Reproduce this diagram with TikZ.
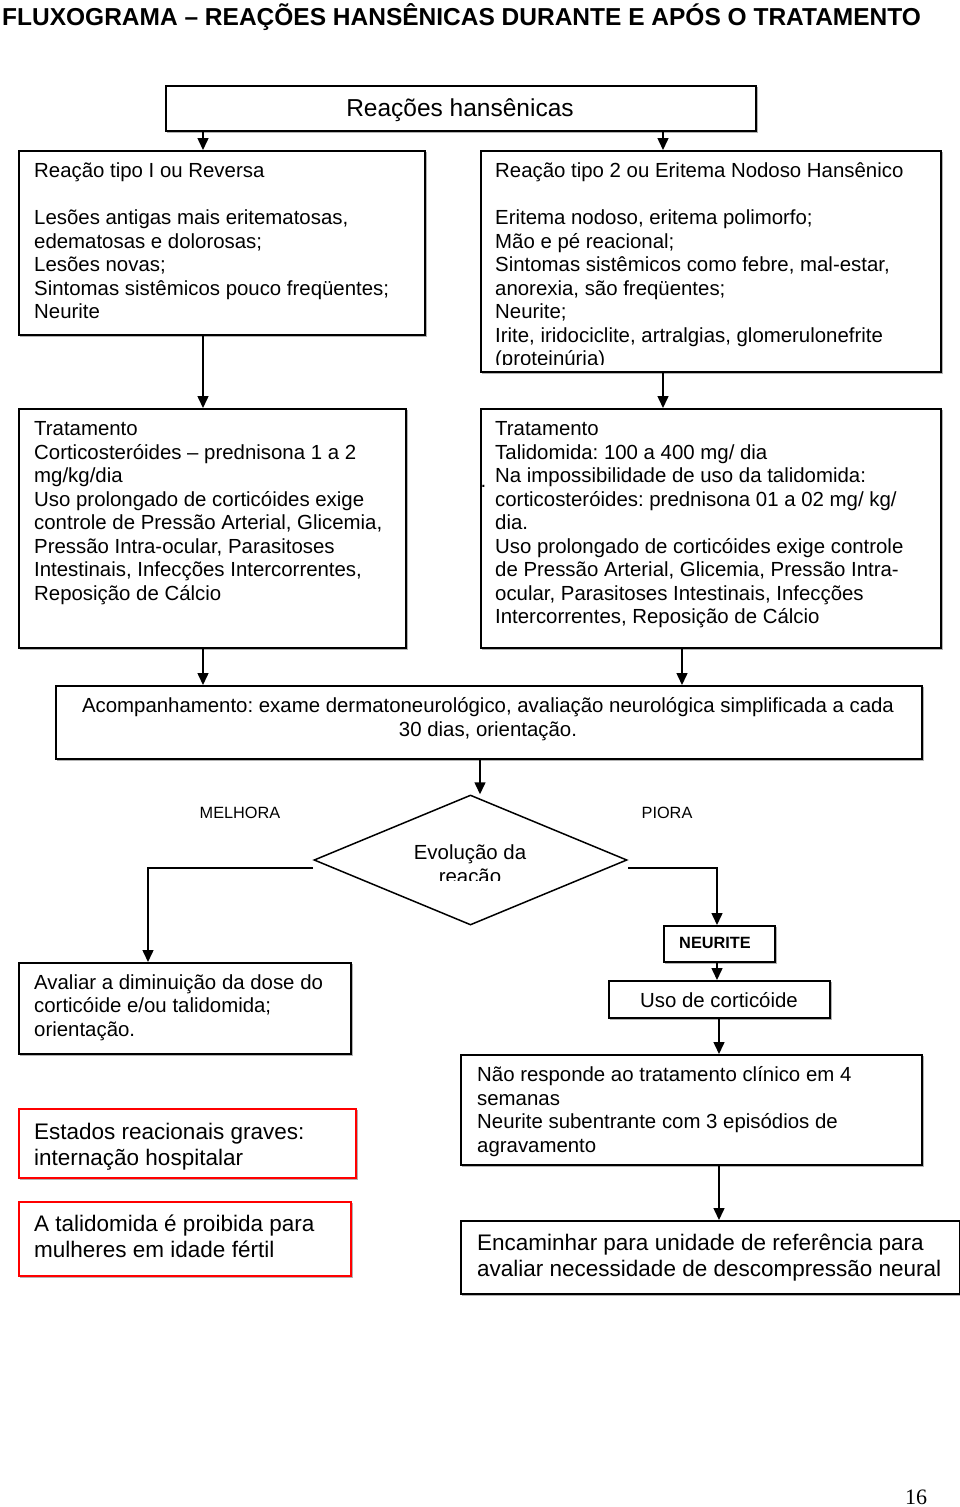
\documentclass[tikz,border=0pt]{standalone}
\usepackage{fontspec}
\setmainfont{Liberation Sans}
\newfontfamily\serifpn{Liberation Serif}
\usetikzlibrary{arrows.meta,shapes.geometric}
\newcommand\firstst{\rule{0pt}{18pt}}
\begin{document}
\frenchspacing
\begin{tikzpicture}[x=1pt,y=-1pt,
  bx/.style={draw, line width=1.5pt, fill=white, inner sep=0pt, anchor=north west,
    preaction={draw=gray!60, line width=1.5pt, transform canvas={xshift=1.5pt,yshift=-1.5pt}}},
  redbx/.style={bx, draw=red},
  tx/.style={anchor=north west, inner sep=0pt, align=left, font=\fontsize{20.4}{23.5}\selectfont},
  txbig/.style={tx, font=\fontsize{22.5}{26}\selectfont},
  one/.style={anchor=base, inner sep=0pt, font=\fontsize{20.4}{23.5}\selectfont},
  small/.style={anchor=base, inner sep=0pt, font=\fontsize{16.3}{19}\selectfont},
  arr/.style={-{Triangle[length=12pt,width=11pt]}, line width=1.5pt}]
\path[use as bounding box] (0,0) rectangle (960,1507);

% title
\node[anchor=base west, inner sep=0pt, font=\fontsize{24.5}{28}\selectfont\bfseries] (title) at (2,25)
  {FLUXOGRAMA – REAÇÕES HANSÊNICAS DURANTE E APÓS O TRATAMENTO};

% x positions of connectors
\coordinate (xa) at (203,0);
\coordinate (xb) at (663,0);
\coordinate (xc) at (682,0);
\coordinate (xd) at (480,0);
\coordinate (xe) at (717,0);
\coordinate (xf) at (719,0);

% top box
\node[bx, minimum width=590pt, minimum height=45pt] (top) at (165,85) {};
\node[anchor=base, inner sep=0pt, font=\fontsize{24.5}{28}\selectfont] (toptx) at (460,116.5) {Reações hansênicas};

% level 1
\node[bx, minimum width=406pt, minimum height=184pt] (l1) at (18,150) {};
\node[tx] (l1tx) at (34,159.7) {\firstst Reação tipo I ou Reversa\\[23.5pt]
Lesões antigas mais eritematosas,\\
edematosas e dolorosas;\\
Lesões novas;\\
Sintomas sistêmicos pouco freqüentes;\\
Neurite};

\node[bx, minimum width=460pt, minimum height=221pt] (r1) at (480,150) {};
\begin{scope}
\clip (482,152) rectangle (938,364);
\node[tx] (r1tx) at (495,159.7) {\firstst Reação tipo 2 ou Eritema Nodoso Hansênico\\[23.5pt]
Eritema nodoso, eritema polimorfo;\\
Mão e pé reacional;\\
Sintomas sistêmicos como febre, mal-estar,\\
anorexia, são freqüentes;\\
Neurite;\\
Irite, iridociclite, artralgias, glomerulonefrite\\
(proteinúria)};
\end{scope}

% level 2
\node[bx, minimum width=387pt, minimum height=239pt] (l2) at (18,408) {};
\node[tx] (l2tx) at (34,417.5) {\firstst Tratamento\\
Corticosteróides – prednisona 1 a 2\\
mg/kg/dia\\
Uso prolongado de corticóides exige\\
controle de Pressão Arterial, Glicemia,\\
Pressão Intra-ocular, Parasitoses\\
Intestinais, Infecções Intercorrentes,\\
Reposição de Cálcio};

\node[bx, minimum width=460pt, minimum height=239pt] (r2) at (480,408) {};
\node[tx] (r2tx) at (495,417.5) {\firstst Tratamento\\
Talidomida: 100 a 400 mg/ dia\\
Na impossibilidade de uso da talidomida:\\
corticosteróides: prednisona 01 a 02 mg/ kg/\\
dia.\\
Uso prolongado de corticóides exige controle\\
de Pressão Arterial, Glicemia, Pressão Intra-\\
ocular, Parasitoses Intestinais, Infecções\\
Intercorrentes, Reposição de Cálcio};
\node[one] (dot) at (483.5,487) {.};

% follow-up
\node[bx, minimum width=866pt, minimum height=73pt] (ac) at (55,685) {};
\node[tx, align=center, anchor=north] (actx) at (488,694.5)
  {\firstst Acompanhamento: exame dermatoneurológico, avaliação neurológica simplificada a cada\\
30 dias, orientação.};

% decision
\node[draw, diamond, line width=1.5pt, minimum width=313pt, minimum height=130pt, inner sep=0pt] (dia) at (470.5,860) {};
\begin{scope}
\clip (320,800) rectangle (620,880);
\node[tx, align=center, anchor=north] (diatx) at (470,841.5) {\firstst Evolução da\\ reação};
\end{scope}
\node[small] (mel) at (240,818) {MELHORA};
\node[small] (pio) at (667,818) {PIORA};

% left branch
\node[bx, minimum width=332pt, minimum height=91pt] (av) at (18,962) {};
\node[tx] (avtx) at (34,971) {\firstst Avaliar a diminuição da dose do\\
corticóide e/ou talidomida;\\
orientação.};

\node[redbx, minimum width=337pt, minimum height=69pt] (est) at (18,1108) {};
\node[txbig] (esttx) at (34,1121) {\firstst Estados reacionais graves:\\ internação hospitalar};

\node[redbx, minimum width=332pt, minimum height=74pt] (tal) at (18,1201) {};
\node[txbig] (taltx) at (34,1213) {\firstst A talidomida é proibida para\\ mulheres em idade fértil};

% right branch
\node[bx, minimum width=111pt, minimum height=36pt] (neu) at (663,925) {};
\node[small, font=\fontsize{16.3}{19}\selectfont\bfseries] (neutx) at (715,948) {NEURITE};

\node[bx, minimum width=221pt, minimum height=37pt] (uso) at (608,980) {};
\node[one] (usotx) at (719,1007.5) {Uso de corticóide};

\node[bx, minimum width=461pt, minimum height=110pt] (nao) at (460,1054) {};
\node[tx] (naotx) at (477,1063.5) {\firstst Não responde ao tratamento clínico em 4\\
semanas\\
Neurite subentrante com 3 episódios de\\
agravamento};

\node[bx, minimum width=499pt, minimum height=73pt] (enc) at (460,1220) {};
\node[txbig] (enctx) at (477,1232) {\firstst Encaminhar para unidade de referência para\\
avaliar necessidade de descompressão neural};

% page number
\node[anchor=base, inner sep=0pt, font=\serifpn\fontsize{22}{26}\selectfont] (pg) at (916,1504) {16};

% connectors
\draw[arr] (top.south -| xa) -- (l1.north -| xa);
\draw[arr] (top.south -| xb) -- (r1.north -| xb);
\draw[arr] (l1.south -| xa) -- (l2.north -| xa);
\draw[arr] (r1.south -| xb) -- (r2.north -| xb);
\draw[arr] (l2.south -| xa) -- (ac.north -| xa);
\draw[arr] (r2.south -| xc) -- (ac.north -| xc);
\draw[arr] (ac.south -| xd) -- (dia.north -| xd);
\coordinate (dl) at (313,868);
\coordinate (avin) at (148,962);
\coordinate (dr) at (628,868);
\draw[arr] (dl) -| (avin);
\draw[arr] (dr) -| (neu.north -| xe);
\draw[arr] (neu.south -| xe) -- (uso.north -| xe);
\draw[arr] (uso.south -| xf) -- (nao.north -| xf);
\draw[arr] (nao.south -| xf) -- (enc.north -| xf);
\end{tikzpicture}
\end{document}
